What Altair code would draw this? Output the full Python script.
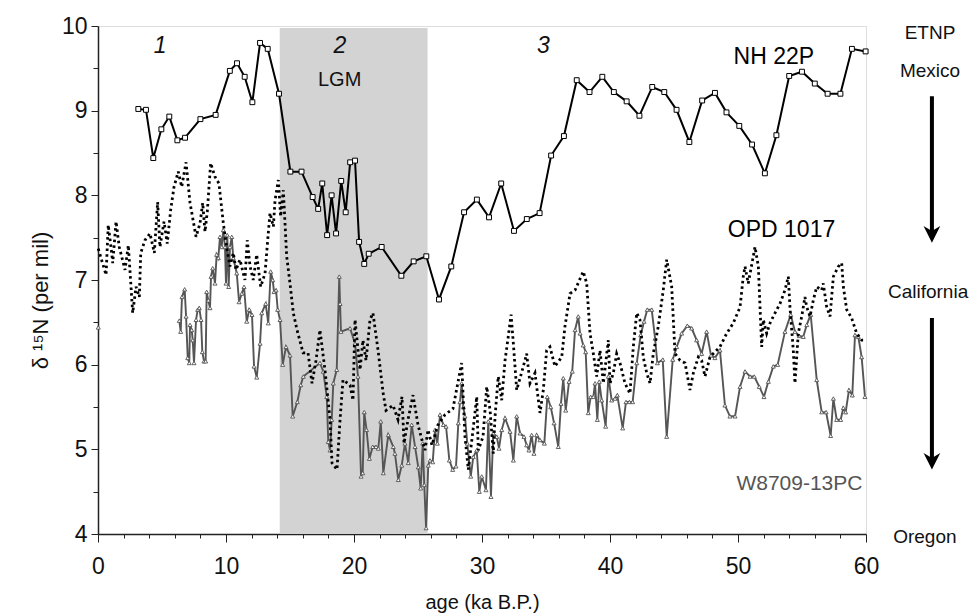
import altair as alt
import pandas as pd

# ---------------- data ----------------
nh_age = [3.15, 3.75, 4.32, 4.95, 5.57, 6.2, 6.8, 8.0, 9.19, 10.3, 10.86, 11.46, 12.06, 12.66, 13.26,
          14.14, 15.03, 15.9, 16.77, 17.2, 17.52, 17.9, 18.25, 18.6, 19.0, 19.35, 19.7, 20.08, 20.4,
          20.8, 21.15, 22.16, 23.7, 24.66, 25.65, 26.64, 27.6, 28.6, 29.6, 30.55, 31.5, 32.5, 33.5,
          34.5, 35.4, 36.4, 37.4, 38.4, 39.4, 40.3, 41.3, 42.3, 43.3, 44.24, 45.2, 46.2, 47.2, 48.2,
          49.1, 50.1, 51.1, 52.1, 53.0, 54.0, 55.0, 56.0, 57.0, 58.0, 58.9, 59.97]
nh_val = [9.02, 9.01, 8.44, 8.78, 8.93, 8.65, 8.68, 8.90, 8.95, 9.47, 9.56, 9.40, 9.10, 9.80, 9.73,
          9.20, 8.28, 8.28, 7.98, 7.84, 8.14, 7.53, 8.0, 7.55, 8.17, 7.80, 8.39, 8.41, 7.45,
          7.19, 7.31, 7.39, 7.05, 7.22, 7.28, 6.77, 7.16, 7.80, 7.95, 7.74, 8.14, 7.58, 7.72,
          7.79, 8.47, 8.70, 9.36, 9.22, 9.40, 9.22, 9.11, 8.94, 9.28, 9.22, 9.01, 8.63, 9.12, 9.21,
          8.98, 8.82, 8.60, 8.26, 8.71, 9.41, 9.46, 9.32, 9.20, 9.20, 9.73, 9.70]

opd_age = [0.02, 0.63, 0.80, 1.07, 1.15, 1.41, 1.66, 2.11, 2.37, 2.71, 2.97, 3.23, 3.34, 3.67, 4.06,
           4.40, 4.66, 4.84, 5.16, 5.41, 5.68, 5.94, 6.27, 6.54, 6.88, 7.19, 7.66, 7.97, 8.18, 8.36,
           8.54, 8.80, 9.14, 9.45, 9.79, 10.05, 10.31, 10.57, 10.78, 11.09, 11.48, 11.66, 11.88,
           12.13, 12.40, 12.71, 13.05, 13.30, 13.44, 13.70, 13.83, 14.09, 14.27, 14.48, 14.74,
           15.0, 15.26, 15.55, 16.02, 16.41, 16.72, 17.03, 17.34, 17.73, 18.13, 18.28, 18.67, 18.91,
           19.14, 19.69, 19.92, 20.08, 20.47, 20.70, 20.94, 21.25, 21.48, 21.88, 22.27, 22.5, 23.05,
           23.44, 23.75, 23.91, 24.22, 24.61, 25.0, 25.31, 25.55, 25.78, 26.09, 26.56, 27.11, 27.73,
           28.41, 28.67, 28.93, 29.30, 29.59, 29.71, 30.08, 30.37, 30.63, 30.88, 31.02, 31.27, 31.54,
           31.80, 32.05, 32.27, 32.45, 32.71, 33.23, 33.49, 33.75, 34.14, 34.53, 34.79, 35.05, 35.31,
           35.70, 36.23, 36.48, 36.88, 37.27, 37.91, 38.18, 38.44, 38.70, 38.96, 39.22, 39.48, 39.87,
           40.0, 40.26, 40.52, 40.78, 41.17, 41.56, 41.82, 42.09, 42.34, 42.60, 42.87, 43.13, 43.38,
           43.77, 44.16, 44.43, 44.82, 45.08, 45.47, 45.86, 46.25, 46.51, 46.90, 47.16, 47.42, 47.81,
           48.59, 49.12, 49.63, 50.16, 50.41, 50.55, 50.80, 51.33, 51.59, 51.72, 51.85, 51.98, 52.24,
           52.5, 52.89, 53.28, 53.67, 53.93, 54.06, 54.32, 54.45, 54.71, 54.98, 55.23, 55.37, 55.63,
           55.88, 56.15, 56.54, 56.66, 56.93, 57.19, 57.45, 57.84, 58.10, 58.23, 58.49, 58.88, 59.27,
           59.66, 59.92]
opd_val = [7.37, 7.06, 7.65, 7.32, 7.20, 7.69, 7.39, 7.12, 7.41, 6.61, 6.92, 6.80, 7.32, 7.47, 7.55,
           7.32, 7.92, 7.39, 7.69, 7.43, 7.83, 8.10, 8.28, 8.10, 8.39, 7.91, 7.51, 7.67, 7.91, 7.57,
           7.81, 8.38, 8.22, 8.14, 7.67, 7.39, 7.16, 7.32, 7.12, 7.24, 7.00, 7.47, 7.16,
           7.00, 7.30, 6.92, 7.08, 7.55, 7.79, 7.63, 7.94, 8.18, 7.75, 8.06, 7.28,
           6.96, 6.61, 6.41, 6.14, 6.14, 5.78, 6.05, 6.41, 5.94, 5.35, 4.84, 4.76, 5.35,
           5.82, 5.76, 5.58, 6.53, 5.94, 6.29, 6.05, 6.53, 6.61, 6.17, 5.67, 5.46, 5.52,
           5.35, 5.62, 5.07, 5.35, 5.64, 5.29, 5.11, 4.99, 5.23, 5.05, 5.29, 5.41, 5.48,
           6.02, 5.15, 4.76, 5.23, 5.62, 4.99, 5.15, 5.74, 5.46, 4.95, 5.39, 5.86, 5.58,
           6.05, 6.33, 6.59, 6.25, 5.70, 5.98, 6.13, 5.78, 5.90, 5.43, 5.70, 6.17, 6.21,
           5.98, 6.09, 6.45, 6.84, 6.88, 7.10, 6.96, 6.37, 6.13, 5.86, 6.17, 5.78, 6.29,
           5.78, 5.90, 6.13, 6.02, 5.78, 5.66, 6.21, 6.61, 6.53, 6.09, 5.90, 5.78, 6.13,
           6.45, 6.88, 7.24, 6.92, 6.13, 6.05, 6.02, 5.70, 5.90, 6.09, 6.05, 5.86, 6.09,
           6.21, 6.37, 6.49, 6.68, 7.04, 7.16, 6.96, 7.39, 7.16, 6.68, 6.21, 6.53, 6.37,
           6.49, 6.61, 6.72, 6.88, 7.04, 6.68, 6.17, 5.78, 6.37, 6.57, 6.80, 6.68, 6.57,
           6.76, 6.92, 6.88, 6.96, 6.68, 6.57, 7.04, 7.16, 7.20, 6.92, 6.65, 6.55, 6.37,
           6.29, 6.29]

w_age = [0.02,
         6.35, 6.46, 6.56, 6.77, 6.88, 7.01, 7.13, 7.19, 7.32, 7.40, 7.50, 7.66, 7.79, 7.91, 8.05,
         8.15, 8.28, 8.41, 8.49, 8.62, 8.75, 8.83, 8.96, 9.14, 9.27, 9.40, 9.53, 9.66, 9.79, 9.92,
         10.0, 10.10, 10.21, 10.31, 10.45, 10.57, 10.84, 11.02, 11.23, 11.41, 11.62, 11.82, 12.03,
         12.19, 12.40, 12.66, 12.79, 13.10, 13.30, 13.49, 13.65, 13.75, 13.91, 14.04, 14.22, 14.43,
         14.69, 15.0, 15.21, 15.57, 15.84, 16.04, 17.34, 17.60, 17.87, 17.99, 18.13, 18.26, 18.38,
         18.65, 18.85, 18.91, 18.98, 19.69, 20.08, 20.31, 20.55, 20.68, 20.80, 20.98, 21.20, 21.46,
         21.72, 21.90, 22.09, 22.29, 22.68, 23.07, 23.20, 23.46, 23.73, 23.98, 24.24, 24.51, 24.77,
         25.02, 25.21, 25.37, 25.49, 25.63, 25.80, 25.94, 26.15, 26.33, 26.51, 26.72, 26.98, 27.19,
         27.45, 27.71, 27.97, 28.15, 28.28, 28.41, 28.54, 28.67, 28.85, 29.12, 29.32, 29.59, 29.79,
         29.98, 30.31, 30.49, 30.70, 30.88, 31.15, 31.33, 31.54, 31.80, 32.19, 32.45, 32.71, 32.97,
         33.28, 33.49, 33.67, 33.88, 34.06, 34.27, 34.53, 34.87, 35.10, 35.37, 35.63, 35.96, 36.17,
         36.35, 36.54, 36.80, 37.05, 37.27, 37.52, 37.66, 37.91, 38.10, 38.30, 38.49, 38.70, 38.83,
         39.01, 39.16, 39.35, 39.66, 39.87, 40.13, 40.39, 40.57, 40.99, 41.25, 41.51, 41.77, 42.09,
         42.40, 42.66, 42.91, 43.26, 43.52, 43.70, 44.12, 44.43, 44.90, 45.21, 45.60, 46.04, 46.38,
         46.77, 47.16, 47.55, 47.89, 48.20, 48.59, 48.98, 49.37, 49.77, 50.16, 50.55, 50.94, 51.27,
         51.66, 52.03, 52.37, 52.76, 53.10, 53.67, 54.12, 54.45, 54.79, 55.10, 55.37, 55.68, 56.15,
         56.54, 56.88, 57.24, 57.45, 57.71, 58.02, 58.23, 58.41, 58.67, 58.93, 59.14, 59.40, 59.66,
         59.92]
w_val = [6.44,
         6.52, 6.39, 6.80, 6.89, 6.57, 6.08, 6.02, 6.47, 6.41, 6.29, 6.02, 6.53, 6.65, 6.67, 6.53,
         6.15, 6.04, 6.04, 6.86, 6.76, 6.67, 7.04, 7.14, 6.96, 7.30, 7.26, 7.51, 7.39, 7.59, 7.39,
         6.96, 7.53, 6.92, 7.39, 7.51, 7.26, 7.08, 6.74, 6.84, 6.92, 6.51, 6.65, 6.59,
         5.98, 5.85, 6.25, 6.61, 6.72, 6.49, 7.10, 7.00, 6.86, 6.88, 6.65, 6.53, 6.00,
         6.21, 6.11, 5.39, 5.56, 5.76, 5.86, 6.02, 5.92, 5.62, 5.09, 4.99, 5.35, 5.78,
         5.94, 7.04, 6.72, 6.39, 6.43, 6.25, 5.86, 4.68, 4.72, 5.44, 5.23, 4.89, 5.03,
         5.03, 5.01, 5.33, 4.72, 5.17, 5.03, 4.95, 4.64, 4.81, 5.07, 4.84, 5.29, 5.03,
         4.79, 4.54, 5.07, 4.58, 4.07, 4.81, 4.87, 4.85, 5.23, 5.07, 5.41, 5.29, 5.27,
         4.87, 4.76, 4.80, 5.31, 5.56, 5.78, 5.50, 5.39, 5.07, 4.68, 4.91, 4.99, 4.50,
         4.68, 4.52, 5.33, 4.44, 5.19, 5.15, 5.01, 5.23, 5.37, 5.21, 4.87, 5.39, 5.19,
         5.15, 5.05, 4.99, 5.17, 4.95, 5.17, 5.11, 5.07, 5.62, 5.50, 5.31, 5.03, 5.54,
         5.84, 5.46, 5.80, 5.92, 6.41, 6.57, 6.37, 6.23, 6.15, 5.43, 5.62, 5.62, 5.78,
         5.35, 5.80, 5.58, 5.27, 5.86, 5.58, 5.60, 5.64, 5.25, 5.56, 5.56, 5.56, 6.02,
         6.35, 6.51, 6.65, 6.65, 6.31, 6.02, 6.06, 5.15, 6.06, 6.21, 6.37, 6.46, 6.43,
         6.29, 6.13, 6.39, 6.11, 6.08, 6.17, 5.52, 5.39, 5.39, 5.74, 5.92, 5.86, 5.86,
         5.74, 5.62, 5.80, 5.98, 6.00, 6.39, 6.59, 6.39, 6.34, 6.33, 6.47, 6.59, 5.82,
         5.44, 5.44, 5.16, 5.60, 5.35, 5.35, 5.49, 5.44, 5.70, 5.64, 6.35, 6.33, 6.09,
         5.62]
w_seg = [0] + [1] * (len(w_age) - 1)

lgm_start, lgm_end = 14.2, 25.75

stage_labels = ["1", "2", "3"]
stage_age = [4.85, 18.9, 34.8]

series_labels = ["NH 22P", "OPD 1017", "W8709-13PC"]
series_age = [52.8, 53.4, 54.8]
series_val = [9.63, 7.59, 4.59]
series_size = [23, 23, 21]
series_color = ["#000000", "#000000", "#555555"]

site_labels = ["ETNP", "Mexico", "California", "Oregon"]
site_age = [65.0, 65.0, 64.85, 64.6]
site_val = [9.92, 9.47, 6.86, 3.96]

arrow_age = [65.15, 65.15]
arrow_top = [9.17, 6.55]
arrow_bottom = [7.55, 4.88]
arrow_tip = [7.48, 4.80]

# ---------------- tables ----------------
nh = pd.DataFrame({"age": nh_age, "val": nh_val})
opd = pd.DataFrame({"age": opd_age, "val": opd_val})
w = pd.DataFrame({"age": w_age, "val": w_val, "seg": w_seg})
shade = pd.DataFrame({"a": [lgm_start], "b": [lgm_end], "lo": [4.0], "hi": [9.975]})
stages = pd.DataFrame({"t": stage_labels, "age": stage_age, "val": [9.76] * 3})
lgm = pd.DataFrame({"t": ["LGM"], "age": [18.88], "val": [9.36]})
series = pd.DataFrame({"t": series_labels, "age": series_age, "val": series_val,
                       "c": series_color, "s": series_size})
sites = pd.DataFrame({"t": site_labels, "age": site_age, "val": site_val})
arrows = pd.DataFrame({"age": arrow_age, "top": arrow_top, "bot": arrow_bottom, "tip": arrow_tip})

FONT = "Liberation Sans"

xscale = alt.Scale(domain=[0, 60], nice=False, zero=False)
yscale = alt.Scale(domain=[4, 10], nice=False, zero=False)

xaxis = alt.Axis(
    values=list(range(0, 61, 2)), format="d",
    labelExpr="datum.value % 10 === 0 ? datum.label : ''",
    tickSize={"condition": {"test": "datum.value % 10 === 0", "value": 8}, "value": 4},
    title="age (ka B.P.)", titleFontSize=20, titleFontWeight="normal",
    titleBaseline="top", titleY=58,
    labelFontSize=23, labelPadding=13, grid=False,
    domainColor="#222", domainWidth=1.5, tickColor="#222", tickWidth=1,
    labelFont=FONT, titleFont=FONT, labelColor="#111", titleColor="#111", labelFlush=False,
)
yaxis = alt.Axis(
    values=[4 + 0.5 * i for i in range(13)], format=".0f",
    labelExpr="datum.value % 1 === 0 ? datum.label : ''",
    tickSize={"condition": {"test": "datum.value % 1 === 0", "value": 7}, "value": 5},
    title="δ  ¹⁵N  (per mil)", titleFontSize=22, titleFontWeight="normal",
    titleAngle=-90, titleAlign="center", titleBaseline="middle", titleX=-58, titleY=274,
    labelFontSize=23, labelPadding=4, grid=False,
    domainColor="#222", domainWidth=1.5, tickColor="#222", tickWidth=1,
    labelFont=FONT, titleFont=FONT, labelColor="#111", titleColor="#111", labelFlush=False,
)

base_x = alt.X("age:Q", scale=xscale, axis=xaxis)
base_y = alt.Y("val:Q", scale=yscale, axis=yaxis)

shade_layer = alt.Chart(shade).mark_rect(color="#d3d3d3").encode(
    x=alt.X("a:Q", scale=xscale, axis=xaxis), x2="b:Q",
    y=alt.Y("lo:Q", scale=yscale, axis=yaxis), y2="hi:Q",
)

w_line = alt.Chart(w).mark_line(color="#555555", strokeWidth=1.9).encode(
    x=base_x, y=base_y, detail="seg:N", order="age:Q"
)
w_pts = alt.Chart(w).mark_point(shape="triangle-up", size=16, filled=True, fill="white",
                                stroke="#555555", strokeWidth=0.9, opacity=1).encode(x=base_x, y=base_y)

opd_line = alt.Chart(opd).mark_line(color="#000000", strokeWidth=2.8, strokeDash=[2.5, 3.2]).encode(
    x=base_x, y=base_y, order="age:Q"
)

nh_line = alt.Chart(nh).mark_line(color="#000000", strokeWidth=2).encode(x=base_x, y=base_y, order="age:Q")
nh_pts = alt.Chart(nh).mark_point(shape="square", size=24, filled=True, fill="white",
                                  stroke="#000000", strokeWidth=1, opacity=1).encode(x=base_x, y=base_y)

stage_text = alt.Chart(stages).mark_text(font=FONT, fontSize=23, fontStyle="italic", color="#111").encode(
    x=base_x, y=base_y, text="t:N")
lgm_text = alt.Chart(lgm).mark_text(font=FONT, fontSize=20, color="#111").encode(
    x=base_x, y=base_y, text="t:N")
series_text = alt.Chart(series).mark_text(font=FONT).encode(
    x=base_x, y=base_y, text="t:N", color=alt.Color("c:N", scale=None),
    size=alt.Size("s:Q", scale=None))
site_text = alt.Chart(sites).mark_text(font=FONT, fontSize=19, color="#111").encode(
    x=base_x, y=base_y, text="t:N")

arrow_shaft = alt.Chart(arrows).mark_rule(color="#000", strokeWidth=4).encode(
    x=alt.X("age:Q", scale=xscale, axis=xaxis), y=alt.Y("top:Q", scale=yscale, axis=yaxis), y2="bot:Q")
arrow_head = alt.Chart(arrows).mark_point(
    shape="M-1,-1.6L0,0.4L1,-1.6L0,-1Z", size=280, filled=True, color="#000", opacity=1
).encode(x=alt.X("age:Q", scale=xscale, axis=xaxis), y=alt.Y("tip:Q", scale=yscale, axis=yaxis))

chart = alt.layer(
    shade_layer, w_line, w_pts, opd_line, nh_line, nh_pts,
    stage_text, lgm_text, series_text, site_text, arrow_shaft, arrow_head,
).properties(
    width=768, height=508,
    autosize=alt.AutoSizeParams(type="none"),
    padding={"left": 98, "top": 26, "right": 108, "bottom": 80},
).configure_view(stroke="#666", strokeWidth=1.2).configure(background="white")

chart.save("out.html", embed_options={"renderer": "svg", "actions": False})
